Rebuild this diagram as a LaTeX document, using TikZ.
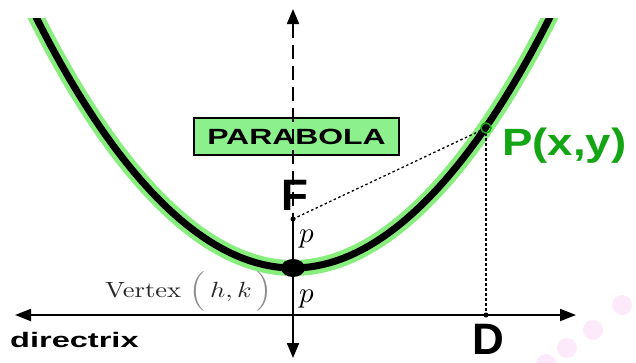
\documentclass[tikz,border=0pt]{standalone}
\usepackage{fontspec}
\setsansfont{Liberation Sans}
\usepackage{amsmath}
\usetikzlibrary{arrows.meta,positioning}
\definecolor{halogreen}{RGB}{135,238,125}
\definecolor{boxgreen}{RGB}{140,240,140}
\definecolor{ptgreen}{RGB}{20,165,20}
\definecolor{dotpink}{RGB}{252,234,250}
\tikzset{
  bigsf/.style={font=\sffamily\bfseries,inner sep=0pt},
  axisline/.style={line width=2pt,-{Triangle[length=15pt,width=12pt]}},
  hintline/.style={line width=1.3pt,dash pattern=on 2.5pt off 2.5pt},
  curvehalo/.style={line width=16pt,halogreen},
  curvecore/.style={line width=7pt,black}
}

\begin{document}
\begin{tikzpicture}[x=1pt,y=-1pt]
  \useasboundingbox (0,0) rectangle (636,362);
  % pink corner dots
  \foreach \px/\py in {622/305,593/330,567/348,546/364}
    \fill[dotpink] (\px,\py) circle (10);
  \coordinate (V) at (293,268);
  \coordinate (F) at (293,219);
  \coordinate (P) at (486,128);
  \coordinate (D) at (486,315);
  \coordinate (top) at (293,9);
  \coordinate (bot) at (293,358);
  \coordinate (dl) at (15,315);
  \coordinate (dr) at (576,315);
  \coordinate (lt) at (32.4,10);
  \coordinate (rt) at (553.6,10);
  % the curve, cut flat at the top
  \begin{scope}
    \clip (0,18) rectangle (636,362);
    \draw[curvehalo] (lt) parabola bend (V) (rt);
    \draw[curvecore] (lt) parabola bend (V) (rt);
  \end{scope}
  \node[draw,line width=1.5pt,fill=boxgreen,minimum width=205pt,minimum height=37pt,inner sep=0pt,
        font=\sffamily\bfseries\fontsize{22}{24}\selectfont] (title) at (296.5,136.5)
        {\scalebox{1.45}[1]{PARABOLA}};
  \draw[axisline,<-,>={Triangle[length=15pt,width=12pt]},dash pattern=on 14pt off 7pt] (top) -- (F);
  \draw[axisline] (F) -- (bot);
  \draw[line width=2pt,{Triangle[length=16pt,width=12pt]}-{Triangle[length=16pt,width=12pt]}] (dl) -- (dr);
  \draw[hintline] (F) -- (P);
  \draw[hintline] (P) -- (D);
  \fill (F) circle (2.5);
  \fill (D) circle (2.5);
  \fill (V) ellipse (12 and 9);
  \draw[ptgreen,line width=1.5pt] (P) circle (5);
  \node[bigsf,anchor=base,font=\sffamily\bfseries\fontsize{44}{46}\selectfont] (flabel) at (295,210) {F};
  \node[bigsf,anchor=base,font=\sffamily\bfseries\fontsize{44}{46}\selectfont] (dlabel) at (488,354) {D};
  \node[bigsf,anchor=base west,text=ptgreen,font=\sffamily\bfseries\fontsize{38}{40}\selectfont] (plabel) at (502,155)
        {\scalebox{1.2}[1]{P(x,y)}};
  \node[bigsf,anchor=base west,font=\sffamily\bfseries\fontsize{21}{23}\selectfont] (dirlabel) at (10,347)
        {\scalebox{1.55}[1]{directrix}};
  \node[anchor=base west,inner sep=0pt] (pup) at (299,242) {\scalebox{2.9}{$p$}};
  \node[anchor=base west,inner sep=0pt] (pdown) at (299,302) {\scalebox{2.9}{$p$}};
  \node[anchor=base west,inner sep=0pt,text=black!85] (vlabel) at (105,297)
        {\scalebox{2.65}[2.2]{Vertex $\textcolor{black!45}{\Bigl(}\,h,k\,\textcolor{black!45}{\Bigr)}$}};
\end{tikzpicture}
\end{document}
